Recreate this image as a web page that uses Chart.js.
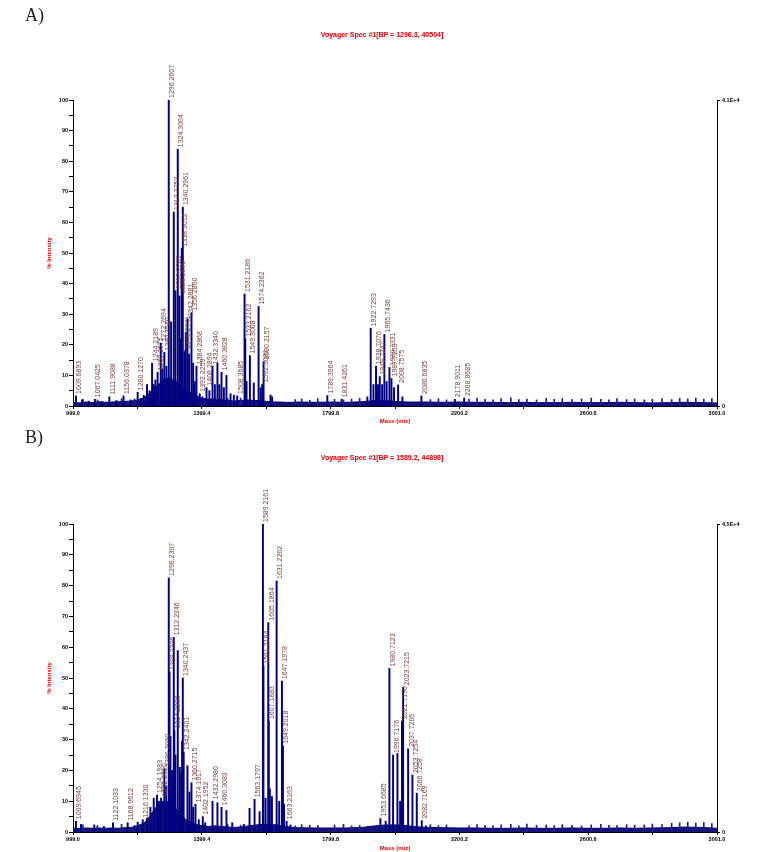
<!DOCTYPE html>
<html>
<head>
<meta charset="utf-8">
<script src="https://cdn.jsdelivr.net/npm/chart.js@4.4.1/dist/chart.umd.min.js"></script>
<style>
  body { margin: 0; background: #fff; }
  #wrap { position: relative; width: 757px; height: 852px; overflow: hidden; }
  canvas { position: absolute; left: 0; }
  .tag { position: absolute; left: 25px; font: 18px "Liberation Serif", "DejaVu Serif", serif; color: #222; z-index: 2; }
  .ttl { position: absolute; left: 232px; width: 300px; text-align: center; font: bold 7px "Liberation Sans", Arial, sans-serif; color: #e00000; z-index: 2; line-height: 8px; }
</style>
</head>
<body>
<div id="wrap">
  <div class="tag" style="top:5px">A)</div>
  <div class="ttl" style="top:31px">Voyager Spec #1[BP = 1296.3, 40504]</div>
  <canvas id="chartA" width="757" height="430" style="top:0"></canvas>
  <div class="tag" style="top:427px">B)</div>
  <div class="ttl" style="top:454px">Voyager Spec #1[BP = 1589.2, 44898]</div>
  <canvas id="chartB" width="757" height="422" style="top:430px"></canvas>
</div>
<script>
// axis ticks
const xTickVals = [999.0, 1199.2, 1399.4, 1599.6, 1799.8, 2000.0, 2200.2, 2400.4, 2600.6, 2800.8, 3001.0];
const xTickLabels = ['999.0', '', '1399.4', '', '1799.8', '', '2200.2', '', '2600.6', '', '3001.0'];
const yTickVals = [0, 5, 10, 15, 20, 25, 30, 35, 40, 45, 50, 55, 60, 65, 70, 75, 80, 85, 90, 95, 100];
const yTickLabels = ['0', '', '10', '', '20', '', '30', '', '40', '', '50', '', '60', '', '70', '', '80', '', '90', '', '100'];

// spectrum A peaks (m/z, % intensity, annotation)
const peakMzA = [1008.2, 1027, 1048, 1067, 1090, 1112, 1134, 1156, 1178, 1200, 1210, 1219, 1229, 1237, 1244.8, 1250, 1255, 1262, 1271.8, 1277, 1283, 1289.5, 1296.7, 1304, 1312.3, 1317.5, 1324.7, 1330, 1334, 1337.2, 1340.3, 1345.5, 1349.6, 1354.8, 1360, 1367.3, 1372.5, 1377.6, 1382.8, 1393, 1401.5, 1414, 1423, 1432.7, 1440, 1448, 1454, 1460.7, 1468, 1476, 1488.7, 1499, 1509.4, 1532.3, 1534.5, 1538.5, 1548.9, 1561, 1575.9, 1582, 1587, 1591.4, 1613, 1618, 1789.6, 1834, 1914, 1924.5, 1933, 1941, 1947, 1952.6, 1960, 1967, 1974, 1982.7, 1989, 1997, 2009.6, 2023, 2082, 2186, 2215];
const peakHtA = [3.3, 2, 1.6, 2.2, 1.5, 3, 1.8, 3.3, 2, 4.5, 2.5, 3.5, 7, 5, 14, 7, 8.5, 11, 20.5, 12, 17.5, 13, 100, 27.5, 63.4, 37.7, 83.9, 36, 22, 51.5, 65, 18, 24, 28.5, 17, 30.5, 14, 8, 13, 4, 3, 6, 5, 13, 7, 14, 7, 11, 6, 10, 4, 3.5, 3.3, 36.6, 22, 8, 16.5, 7.5, 32.5, 6, 7, 14.5, 3.6, 3, 3.4, 2.2, 3, 25.4, 7, 13, 7, 9.6, 7, 23.4, 8, 12.6, 9, 6, 6.9, 3, 3.3, 2.2, 2.6];
const peakLblA = ['1009.6893', '', '', '1067.0425', '', '1111.9088', '', '1156.0378', '', '1200.1270', '', '', '', '', '1244.2189', '', '', '1260.2575', '1272.2694', '', '1280.2540', '', '1296.2607', '', '1312.2752', '1318.2785', '1324.3064', '1328.2690', '', '1338.3012', '1340.2961', '1346.2741', '', '1342.2881', '', '1356.2860', '', '', '1384.2868', '1392.2259', '', '1408.2894', '', '1432.3340', '', '', '', '1460.3828', '', '', '', '', '1508.3685', '1531.2186', '1533.2162', '', '1549.3008', '', '1574.2362', '', '1592.3081', '1590.2157', '', '', '1789.3964', '1831.4261', '', '1922.7293', '', '1938.7076', '', '1949.7247', '', '1965.7436', '', '1980.7331', '1987.7253', '', '2008.7575', '', '2080.6835', '2178.9011', '2208.8685'];

// spectrum B peaks
const peakMzB = [1008.2, 1024, 1065, 1095, 1123.4, 1169, 1200, 1215.8, 1229, 1239.6, 1250, 1260, 1266.6, 1272.8, 1283, 1289, 1296.7, 1299, 1302, 1307, 1312.3, 1314, 1317.5, 1324.7, 1331, 1335, 1338, 1340.3, 1343, 1354.8, 1361, 1367.3, 1372.5, 1379.7, 1390, 1402.5, 1410, 1432.7, 1448, 1460.7, 1476, 1494, 1530, 1547.8, 1563.4, 1579, 1589.4, 1591, 1597.7, 1606, 1607.5, 1611, 1617.4, 1632, 1640, 1648.5, 1651.6, 1655, 1663, 1675, 1954.6, 1971, 1982.6, 1994, 2007.6, 2016, 2021.7, 2025.2, 2040.8, 2054.2, 2067.7, 2083.3, 2096];
const peakHtB = [3.5, 2.5, 2.3, 1.8, 3, 3, 3.2, 4, 4.5, 8, 11, 12, 10, 11, 20.5, 15, 82.5, 52, 31, 20, 63.2, 33, 25, 58.9, 21, 19, 29.4, 50, 26, 21.5, 13, 16, 8, 9, 4, 5, 3, 10, 9.5, 8, 7, 3, 2.5, 7.7, 10.6, 6.6, 100, 54, 11, 68, 36, 14, 11.5, 81.5, 10, 49, 28, 9, 3.5, 2.3, 4.4, 3.5, 53.1, 25, 25.5, 10, 36, 47, 27, 18.5, 12.6, 3.7, 2];
const peakLblB = ['1009.6945', '', '', '', '1122.1033', '1168.9612', '', '1216.1330', '', '', '', '1254.1983', '', '1272.2020', '1280.2060', '', '1296.2307', '1299.2306', '', '', '1312.2246', '1314.2236', '', '', '', '', '', '1340.2437', '1342.2401', '', '', '1360.2715', '', '1374.1917', '', '1402.1952', '', '1432.2980', '', '1460.3083', '', '', '', '', '1563.1797', '', '1589.2161', '1591.2184', '', '1605.1864', '1607.1883', '', '', '1631.2262', '', '1647.1978', '1649.2018', '', '1663.2163', '', '1953.6685', '', '1980.7123', '1996.7176', '', '', '2021.7190', '2023.7215', '2037.7206', '2053.7254', '2066.7258', '2082.7169', ''];

// baseline / chemical noise level (% intensity)
const baseMz = [999, 1020, 1040, 1060, 1080, 1100, 1120, 1140, 1160, 1180, 1200, 1210, 1220, 1230, 1240, 1250, 1260, 1270, 1280, 1290, 1300, 1310, 1320, 1330, 1340, 1350, 1360, 1370, 1380, 1390, 1400, 1420, 1440, 1460, 1480, 1500, 1520, 1540, 1560, 1580, 1600, 1620, 1640, 1660, 1680, 1700, 1750, 1800, 1850, 1900, 1920, 1940, 1960, 1980, 2000, 2020, 2040, 2060, 2080, 2100, 2150, 2200, 2250, 2300, 2350, 2400, 2450, 2500, 2550, 2600, 2650, 2700, 2750, 2800, 2850, 2900, 2950, 3001];
const baseA = [1.2, 1.0, 1.3, 1.1, 1.4, 1.2, 1.3, 1.4, 1.5, 1.6, 2.0, 2.2, 2.8, 3.5, 4.5, 5.5, 6.5, 7.5, 8.5, 9, 9, 8.5, 8, 7, 6, 5, 4.5, 4, 3.5, 3, 2.5, 2.2, 2.2, 2.0, 1.8, 1.6, 1.8, 2.0, 1.8, 1.8, 1.5, 1.3, 1.3, 1.2, 1.2, 1.3, 1.2, 1.3, 1.2, 1.4, 1.6, 1.8, 1.8, 1.7, 1.5, 1.4, 1.3, 1.3, 1.3, 1.3, 1.2, 1.3, 1.2, 1.2, 1.1, 1.2, 1.1, 1.1, 1.2, 1.1, 1.1, 1.2, 1.1, 1.0, 1.1, 1.2, 1.1, 1.0];
const baseB = [1.3, 1.1, 1.3, 1.2, 1.3, 1.2, 1.3, 1.2, 1.4, 1.5, 2.0, 2.5, 3, 4, 5.5, 7, 8.5, 9.5, 10, 10, 9.5, 8.5, 7.5, 6, 5, 4, 3.5, 3, 2.5, 2.2, 2, 1.8, 2, 1.8, 1.6, 1.5, 1.6, 1.9, 2.2, 2.4, 2.5, 2.4, 2.2, 1.8, 1.5, 1.4, 1.3, 1.3, 1.3, 1.5, 1.8, 2.0, 2.2, 2.3, 2.3, 2.2, 2.0, 1.8, 1.6, 1.5, 1.4, 1.3, 1.3, 1.2, 1.2, 1.3, 1.2, 1.2, 1.3, 1.2, 1.2, 1.3, 1.2, 1.3, 1.4, 1.6, 1.5, 1.2];

// small noise spikes along the baseline
const noiseMz = [1030, 1075, 1150, 1190, 1480, 1520, 1690, 1710, 1735, 1760, 1812, 1840, 1865, 1890, 2110, 2135, 2160, 2230, 2255, 2280, 2305, 2330, 2360, 2385, 2410, 2440, 2470, 2495, 2520, 2550, 2580, 2610, 2640, 2665, 2690, 2720, 2745, 2775, 2800, 2830, 2860, 2885, 2910, 2935, 2960, 2985];
const noiseA = [2.2, 2.0, 2.4, 2.3, 2.5, 2.6, 2.1, 2.3, 1.9, 2.4, 2.2, 2.0, 2.3, 2.5, 2.1, 2.4, 2.0, 2.3, 2.6, 2.2, 2.0, 2.4, 2.7, 2.1, 2.3, 2.0, 2.5, 2.2, 2.4, 2.1, 2.3, 2.6, 2.2, 2.0, 2.4, 2.1, 2.3, 2.0, 2.2, 2.4, 2.1, 2.5, 2.3, 2.6, 2.2, 2.4];
const noiseB = [2.3, 2.1, 2.5, 2.2, 2.4, 2.2, 2.0, 2.4, 2.2, 2.1, 2.3, 2.5, 2.0, 2.2, 2.4, 2.1, 2.3, 2.0, 2.4, 2.2, 2.1, 2.3, 2.5, 2.0, 2.6, 2.2, 2.3, 2.1, 2.4, 2.2, 2.0, 2.3, 2.5, 2.2, 2.1, 2.4, 2.2, 2.3, 2.6, 2.4, 2.8, 3.0, 3.2, 2.9, 3.1, 2.7];

const FONT = '"Liberation Sans", Arial, sans-serif';

function peakLabels(mzs, hts, lbls) {
  return {
    id: 'peakLabels',
    afterDatasetsDraw(chart) {
      const { ctx, scales: { x, y } } = chart;
      ctx.save();
      ctx.font = '7px ' + FONT;
      ctx.fillStyle = '#74403c';
      ctx.textAlign = 'left';
      ctx.textBaseline = 'middle';
      lbls.forEach((t, i) => {
        if (!t) return;
        const px = x.getPixelForValue(mzs[i]) + 3.5;
        const py = y.getPixelForValue(hts[i]) - 2;
        ctx.save();
        ctx.translate(px, py);
        ctx.rotate(-Math.PI / 2);
        ctx.fillText(t, 0, 0);
        ctx.restore();
      });
      ctx.restore();
    }
  };
}

function makeSpectrum(id, mzs, hts, lbls, base, noise, maxLabel, topPad, xAxisH, titlePad) {
  const tickFont = { size: 5.5, weight: 'bold', family: FONT };
  return new Chart(document.getElementById(id), {
    type: 'bar',
    data: {
      datasets: [
        {
          type: 'bar',
          data: mzs.map((m, i) => ({ x: m, y: hts[i] })),
          backgroundColor: '#000080',
          barThickness: 1.3,
          order: 1
        },
        {
          type: 'bar',
          data: noiseMz.map((m, i) => ({ x: m, y: noise[i] })),
          backgroundColor: '#1c1c8c',
          barThickness: 1,
          order: 1
        },
        {
          type: 'line',
          data: baseMz.map((m, i) => ({ x: m, y: base[i] })),
          fill: 'origin',
          backgroundColor: '#14147a',
          borderColor: '#000070',
          borderWidth: 1,
          pointRadius: 0,
          tension: 0,
          order: 2
        }
      ]
    },
    options: {
      responsive: false,
      animation: false,
      devicePixelRatio: 1,
      datasets: { bar: { grouped: false } },
      layout: { padding: { left: 43, right: 0, top: topPad, bottom: 0 } },
      plugins: { legend: { display: false }, tooltip: { enabled: false } },
      scales: {
        x: {
          type: 'linear', min: 999, max: 3001, offset: false,
          afterBuildTicks: s => { s.ticks = xTickVals.map(v => ({ value: v })); },
          afterFit: s => { s.height = xAxisH; },
          ticks: { autoSkip: false, maxRotation: 0, padding: 1, color: '#000', font: tickFont,
                   callback: (v, i) => xTickLabels[i] },
          grid: { drawOnChartArea: false, tickLength: 3, color: '#000', offset: false },
          border: { color: '#000', width: 1 },
          title: { display: true, text: 'Mass (m/z)', color: '#e00000',
                   font: { size: 6, weight: 'bold', family: FONT }, padding: { top: 0, bottom: titlePad } }
        },
        y: {
          position: 'left', min: 0, max: 100,
          afterBuildTicks: s => { s.ticks = yTickVals.map(v => ({ value: v })); },
          afterFit: s => { s.width = 30; },
          ticks: { autoSkip: false, padding: 1, color: '#000', font: tickFont,
                   callback: (v, i) => yTickLabels[i] },
          grid: { drawOnChartArea: false, tickLength: 4, color: '#000' },
          border: { color: '#000', width: 1 },
          title: { display: true, text: '% Intensity', color: '#e00000',
                   font: { size: 6, weight: 'bold', family: FONT }, padding: { top: 3, bottom: 0 } }
        },
        y2: {
          position: 'right', min: 0, max: 100,
          afterBuildTicks: s => { s.ticks = [{ value: 0 }, { value: 100 }]; },
          afterFit: s => { s.width = 40; },
          ticks: { autoSkip: false, padding: 2, color: '#000', font: tickFont,
                   callback: (v, i) => ['0', maxLabel][i] },
          grid: { drawOnChartArea: false, tickLength: 3, color: '#000' },
          border: { color: '#000', width: 1 }
        }
      }
    },
    plugins: [peakLabels(mzs, hts, lbls)]
  });
}

makeSpectrum('chartA', peakMzA, peakHtA, peakLblA, baseA, noiseA, '4.1E+4', 100, 24, 5);
makeSpectrum('chartB', peakMzB, peakHtB, peakLblB, baseB, noiseB, '4.5E+4', 94, 20, 0);
</script>
</body>
</html>
